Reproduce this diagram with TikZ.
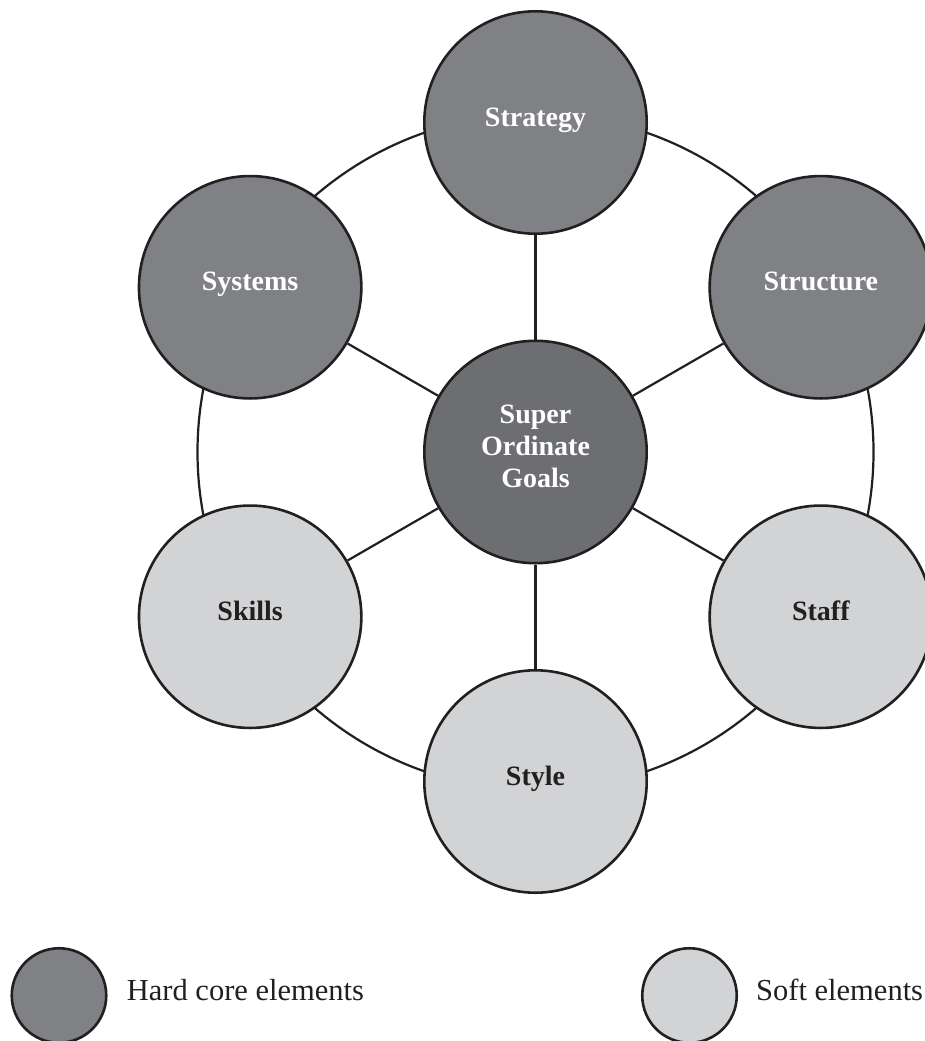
\documentclass[tikz,border=0pt]{standalone}
\usepackage{fontspec}
\setmainfont{Liberation Serif}
\definecolor{outline}{HTML}{231F20}
\definecolor{hardfill}{HTML}{808184}
\definecolor{corefill}{HTML}{6D6E71}
\definecolor{softfill}{HTML}{D1D3D4}
\begin{document}
\begin{tikzpicture}[x=1pt,y=-1pt,
  element/.style={circle, draw=outline, line width=2.6pt, minimum size=222.4pt,
    inner sep=0pt, font=\fontsize{28}{33}\selectfont\bfseries,
    text height=12pt, text depth=5pt},
  hard/.style={element, fill=hardfill, text=white},
  soft/.style={element, fill=softfill, text=outline},
  core/.style={circle, draw=outline, line width=2.6pt, minimum size=222.4pt,
    inner sep=0pt, fill=corefill, text=white, align=center,
    font=\fontsize{28}{33}\selectfont\bfseries},
  link/.style={draw=outline, line width=2.2pt},
  keydot/.style={circle, draw=outline, line width=2.6pt, minimum size=94.5pt, inner sep=0pt},
  keytext/.style={anchor=base west, inner sep=0pt, text=outline,
    font=\fontsize{30.5}{33}\selectfont}
]
\fill[white] (0,0) rectangle (924,1041);
\useasboundingbox (0,0) rectangle (924,1041);

% outer ring joining the six elements
\draw[link] (535.5,452) circle[radius=338pt];

% central element
\node[core] (sog) at (535.5,452) {\raisebox{3pt}[\height][\depth]{\begin{tabular}{@{}c@{}}Super\\[-1pt]Ordinate\\[-1pt]Goals\end{tabular}}};

% hard elements
\node[hard] (strategy)  at (535.5,122.5)  {Strategy};
\node[hard] (structure) at (820.85,287.25) {Structure};
\node[hard] (systems)   at (250.15,287.25) {Systems};

% soft elements
\node[soft] (staff)  at (820.85,616.75) {Staff};
\node[soft] (style)  at (535.5,781.5)   {Style};
\node[soft] (skills) at (250.15,616.75) {Skills};

% spokes from the centre
\foreach \n in {strategy,structure,staff,style,skills,systems}
  \draw[link] (sog) -- (\n);

% key
\node[keydot, fill=hardfill] (hardkey) at (59,995.5) {};
\node[keytext] (hardlabel) at (126.7,1000) {Hard core elements};
\node[keydot, fill=softfill] (softkey) at (689.5,995.5) {};
\node[keytext] (softlabel) at (756,1000) {Soft elements};
\end{tikzpicture}
\end{document}
